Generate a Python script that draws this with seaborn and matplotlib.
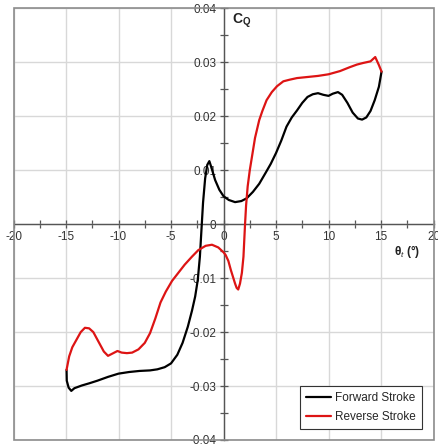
import matplotlib
matplotlib.use("Agg")
import matplotlib.pyplot as plt
import matplotlib.ticker as mticker
from matplotlib.patches import Rectangle
import seaborn as sns
import pandas as pd

# Forward stroke (black)
fwd_theta = [-14.95, -14.93, -14.75, -14.5, -14.2, -13.5, -12.8, -12.0, -11.0, -10.0,
             -9.0, -8.0, -7.0, -6.3, -5.6, -5.0, -4.4, -3.9, -3.4, -3.0,
             -2.7, -2.45, -2.25, -2.1, -1.95, -1.75, -1.55, -1.35, -1.15, -0.8,
             -0.4, 0.0, 0.5, 1.1, 1.7, 2.2, 2.8, 3.4, 4.0, 4.5, 5.0,
             5.5, 6.0, 6.5, 7.0, 7.5, 8.0, 8.5, 9.0, 9.5, 10.0,
             10.4, 10.9, 11.3, 11.8, 12.3, 12.8, 13.2, 13.6, 14.0, 14.4,
             14.8, 15.05]
fwd_cq = [-0.0270, -0.0290, -0.0303, -0.0309, -0.0304, -0.0299, -0.0295, -0.0290, -0.0283, -0.0277,
          -0.0274, -0.0272, -0.0271, -0.0269, -0.0265, -0.0258, -0.0242, -0.0220, -0.0190, -0.0160,
          -0.0134, -0.0103, -0.0060, -0.0010, 0.0040, 0.0085, 0.0110, 0.0117, 0.0105, 0.0082,
          0.0064, 0.0052, 0.0045, 0.0041, 0.0043, 0.0048, 0.0060, 0.0075, 0.0095, 0.0112, 0.0132,
          0.0155, 0.0181, 0.0198, 0.0211, 0.0225, 0.0236, 0.0241, 0.0243, 0.0240, 0.0238,
          0.0242, 0.0245, 0.0240, 0.0225, 0.0207, 0.0196, 0.0194, 0.0198, 0.0210, 0.0230,
          0.0255, 0.0283]

# Reverse stroke (red)
rev_theta = [15.05, 14.8, 14.45, 14.0, 13.3, 12.7, 12.0, 11.1, 10.0, 9.0,
             8.0, 7.0, 6.3, 5.7, 5.1, 4.6, 4.1, 3.7, 3.4, 3.0,
             2.75, 2.5, 2.3, 2.15, 2.05, 1.9, 1.75, 1.57, 1.4, 1.25,
             1.1, 0.94, 0.7, 0.46, 0.2, 0.0, -0.5, -1.1, -1.7, -2.4,
             -3.0, -3.7, -4.3, -4.9, -5.5, -6.0, -6.5, -7.0, -7.5, -8.1,
             -8.7, -9.2, -9.7, -10.1, -10.5, -11.0, -11.4, -11.9, -12.4, -12.8,
             -13.2, -13.6, -14.0, -14.4, -14.7, -14.95]
rev_cq = [0.0283, 0.0295, 0.0310, 0.0302, 0.0299, 0.0296, 0.0291, 0.0284, 0.0278, 0.0275,
          0.0273, 0.0271, 0.0268, 0.0265, 0.0256, 0.0245, 0.0230, 0.0210, 0.0193, 0.0160,
          0.0130, 0.0100, 0.0070, 0.0035, 0.0000, -0.0060, -0.0090, -0.0110, -0.0121, -0.0118,
          -0.0110, -0.0100, -0.0085, -0.0068, -0.0057, -0.0052, -0.0043, -0.0038, -0.0040, -0.0048,
          -0.0060, -0.0075, -0.0090, -0.0105, -0.0125, -0.0145, -0.0175, -0.0202, -0.0220, -0.0232,
          -0.0238, -0.0239, -0.0238, -0.0235, -0.0239, -0.0244, -0.0236, -0.0218, -0.0200, -0.0193,
          -0.0192, -0.0200, -0.0214, -0.0228, -0.0245, -0.0270]

x_ticks = [-20, -15, -10, -5, 0, 5, 10, 15, 20]
y_ticks = [-0.04, -0.03, -0.02, -0.01, 0, 0.01, 0.02, 0.03, 0.04]

sns.set_theme(style="white")
plt.rcParams['font.family'] = ['Liberation Sans', 'DejaVu Sans']
plt.rcParams['mathtext.fontset'] = 'custom'
plt.rcParams['mathtext.rm'] = 'Liberation Sans'
plt.rcParams['mathtext.bf'] = 'Liberation Sans:bold'
plt.rcParams['mathtext.it'] = 'Liberation Sans:italic'

fig = plt.figure(figsize=(4.39, 4.47), dpi=100)
ax = fig.add_axes([0.0308, 0.0157, 0.9567, 0.9653])

df_f = pd.DataFrame({"theta": fwd_theta, "cq": fwd_cq})
df_r = pd.DataFrame({"theta": rev_theta, "cq": rev_cq})
sns.lineplot(data=df_f, x="theta", y="cq", sort=False, estimator=None, color="black",
             lw=1.6, label="Forward Stroke", ax=ax, zorder=5)
sns.lineplot(data=df_r, x="theta", y="cq", sort=False, estimator=None, color="#dd1414",
             lw=1.6, label="Reverse Stroke", ax=ax, zorder=5)

ax.set_xlim(-20, 20)
ax.set_ylim(-0.04, 0.04)
ax.set_xticks(x_ticks)
ax.set_yticks(y_ticks)
ax.xaxis.set_minor_locator(mticker.MultipleLocator(2.5))
ax.yaxis.set_minor_locator(mticker.MultipleLocator(0.005))
ax.xaxis.set_major_formatter(mticker.FuncFormatter(lambda v, p: f"{int(round(v))}"))
ax.yaxis.set_major_formatter(mticker.FuncFormatter(lambda v, p: "0" if abs(v) < 1e-9 else f"{v:.2f}"))
ax.set_xlabel("")
ax.set_ylabel("")

ax.grid(True, which="major", color="#d8d8d8", lw=1.0, zorder=0)
ax.set_axisbelow(True)

for s in ["top", "right"]:
    ax.spines[s].set_visible(False)
ax.spines["left"].set_position(("data", 0))
ax.spines["bottom"].set_position(("data", 0))
for s in ["left", "bottom"]:
    ax.spines[s].set_color("#555555")
    ax.spines[s].set_linewidth(1.0)
    ax.spines[s].set_zorder(3)

ax.add_patch(Rectangle((0, 0), 1, 1, transform=ax.transAxes, fill=False,
                       edgecolor="#8c8c8c", lw=1.2, zorder=4, clip_on=False))

ax.tick_params(which="both", direction="inout", length=6, width=0.9, color="#555555",
               labelsize=8.5, labelcolor="#333333", pad=2,
               bottom=True, left=True)

ax.text(0.85, 0.0378, r"$\mathbf{C}_{\mathbf{Q}}$", fontsize=10, ha="left", va="center",
        color="#222222")
ax.text(16.2, -0.0051, r"$\mathbf{\theta}_{t}$ (°)", fontsize=8.5, ha="left", va="center",
        color="#222222", fontweight="bold")

leg = ax.legend(loc="lower right", bbox_to_anchor=(0.9726, 0.0255), borderaxespad=0,
                fontsize=8.5, frameon=True, fancybox=False, framealpha=1, edgecolor="#333333",
                handlelength=2.1, borderpad=0.5, labelspacing=0.6, handletextpad=0.4)
leg.get_frame().set_linewidth(0.8)
leg.set_zorder(10)

fig.savefig("out.png", dpi=100)
